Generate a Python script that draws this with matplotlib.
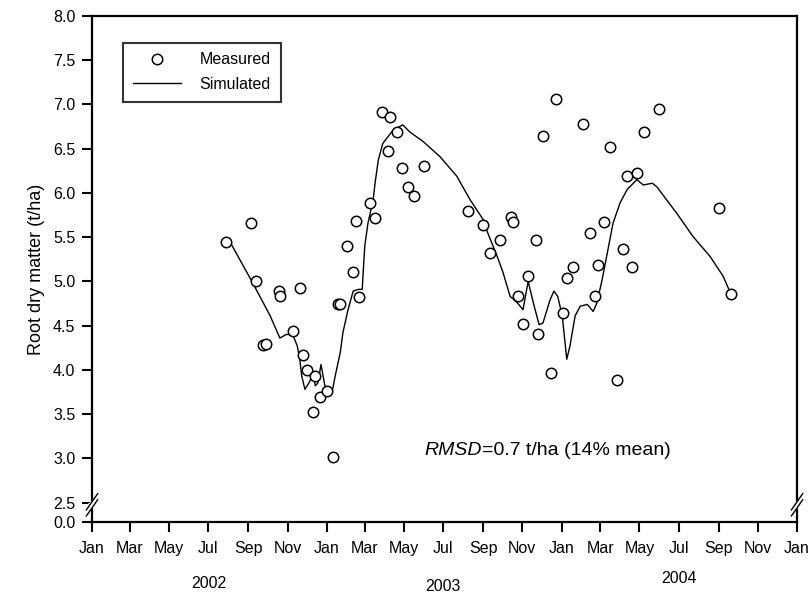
import numpy as np
import matplotlib
matplotlib.use("Agg")
import matplotlib.pyplot as plt
import matplotlib.dates as mdates
import matplotlib.transforms as mtransforms

plt.rcParams['font.family'] = ['Liberation Sans', 'DejaVu Sans']

# days since 2002-01-01 and root dry matter (t/ha)
meas_days = [208, 247, 255, 266, 271, 291, 292, 312, 323, 328, 334, 344, 347, 354,
             365, 375, 382, 386, 396, 406, 410, 415, 432, 440, 451, 460, 463, 474,
             482, 491, 501, 516, 585, 608, 619, 634, 651, 654, 662, 670, 678, 690,
             693, 701, 714, 721, 732, 738, 748, 763, 774, 782, 787, 796, 805, 816,
             826, 832, 839, 847, 858, 881, 975, 993]
meas_vals = [5.44, 5.66, 5.00, 4.28, 4.29, 4.89, 4.83, 4.44, 4.92, 4.17, 4.00, 3.52,
             3.93, 3.69, 3.76, 3.02, 4.74, 4.75, 5.40, 5.11, 5.68, 4.82, 5.89, 5.72,
             6.92, 6.47, 6.86, 6.69, 6.28, 6.07, 5.96, 6.31, 5.80, 5.64, 5.32, 5.47,
             5.73, 5.67, 4.83, 4.52, 5.06, 5.47, 4.41, 6.64, 3.97, 7.06, 4.64, 5.04,
             5.16, 6.78, 5.55, 4.83, 5.19, 5.67, 6.52, 3.88, 5.37, 6.19, 5.16, 6.23,
             6.69, 6.95, 5.83, 4.86]

sim_days = [215, 250, 277, 292, 302, 312, 319, 323, 326, 331, 337, 344, 347, 351,
            356, 362, 368, 373, 378, 386, 390, 398, 406, 414, 420, 424, 429, 437,
            440, 445, 452, 468, 483, 494, 515, 541, 567, 588, 608, 614, 630, 639,
            650, 661, 670, 678, 686, 695, 701, 712, 718, 724, 731, 738, 743, 751,
            759, 770, 779, 785, 793, 801, 810, 821, 832, 847, 857, 871, 878, 909,
            934, 961, 981, 993]
sim_vals = [5.44, 4.98, 4.61, 4.36, 4.40, 4.40, 4.27, 4.12, 3.93, 3.78, 3.85, 3.96,
            3.82, 3.85, 4.06, 3.82, 3.78, 3.74, 3.93, 4.20, 4.42, 4.68, 4.89, 4.91,
            4.91, 5.40, 5.66, 5.92, 6.11, 6.37, 6.56, 6.71, 6.77, 6.69, 6.58, 6.41,
            6.19, 5.92, 5.70, 5.57, 5.28, 5.10, 4.83, 4.76, 4.68, 5.00, 4.76, 4.51,
            4.53, 4.79, 4.89, 4.83, 4.61, 4.12, 4.27, 4.61, 4.72, 4.74, 4.66, 4.76,
            5.02, 5.32, 5.66, 5.89, 6.04, 6.15, 6.09, 6.11, 6.07, 5.77, 5.51, 5.28,
            5.06, 4.86]

years = ['2002', '2003', '2004']
ytick_vals = [2.5, 3.0, 3.5, 4.0, 4.5, 5.0, 5.5, 6.0, 6.5, 7.0, 7.5, 8.0]

base = np.datetime64('2002-01-01')
meas_dates = base + np.array(meas_days).astype('timedelta64[D]')
sim_dates = base + np.array(sim_days).astype('timedelta64[D]')

fig = plt.figure(figsize=(8.1, 5.94), dpi=100)
ax = fig.add_axes([0.1136, 0.1212, 0.8704, 0.8518])

sim_line, = ax.plot(sim_dates, sim_vals, color='black', lw=1.0, label='Simulated', zorder=2)
meas_pts, = ax.plot(meas_dates, meas_vals, ls='none', marker='o', ms=7.5, mfc='white',
                    mec='black', mew=1.1, label='Measured', zorder=3)

# broken y axis: bottom of the axes stands for 0.0
ybot = 2.28
ax.set_ylim(ybot, 8.0)
ax.set_yticks([ybot] + ytick_vals)
ax.set_yticklabels(['0.0'] + ['%.1f' % v for v in ytick_vals])

ax.set_xlim(np.datetime64('2002-01-01'), np.datetime64('2005-01-01'))
ax.xaxis.set_major_locator(mdates.MonthLocator(bymonth=[1, 3, 5, 7, 9, 11]))
ax.xaxis.set_major_formatter(mdates.DateFormatter('%b'))

ax.tick_params(direction='out', length=7, width=1.5, labelsize=11.5, color='black')
ax.tick_params(axis='x', pad=7)
ax.tick_params(axis='y', pad=5)
for s in ax.spines.values():
    s.set_linewidth(1.6)

ax.set_ylabel('Root dry matter (t/ha)', fontsize=13, labelpad=6)

# year labels under the month labels
trans = mtransforms.blended_transform_factory(ax.transData, ax.transAxes)
for yr, dy in zip(years, [-0.122, -0.128, -0.112]):
    ax.text(np.datetime64(yr + '-07-01'), dy, yr, transform=trans,
            ha='center', va='center', fontsize=11.5)

# axis break marks
for xb in [0.0, 1.0]:
    ax.fill([xb - 0.01, xb + 0.01, xb + 0.01, xb - 0.01],
            [0.018, 0.038, 0.050, 0.030], transform=ax.transAxes,
            color='white', clip_on=False, zorder=5)
    for off in [-0.006, 0.006]:
        ax.plot([xb - 0.008, xb + 0.008], [0.018 + off, 0.05 + off],
                transform=ax.transAxes, color='black', lw=1.0, clip_on=False, zorder=6)

leg = ax.legend(handles=[meas_pts, sim_line], loc='upper left',
                bbox_to_anchor=(0.044, 0.947), borderaxespad=0, fontsize=11.5,
                frameon=True, fancybox=False, edgecolor='black', handlelength=3.0,
                handletextpad=1.2, borderpad=0.6, labelspacing=0.6)
leg.get_frame().set_linewidth(1.5)

t1 = ax.text(0.472, 0.124, 'RMSD', transform=ax.transAxes, fontsize=14,
             style='italic', ha='left', va='bottom')
ax.annotate('=0.7 t/ha (14% mean)', xy=(1, 0), xycoords=t1, fontsize=14,
            ha='left', va='bottom')

fig.savefig('out.png', dpi=100)
